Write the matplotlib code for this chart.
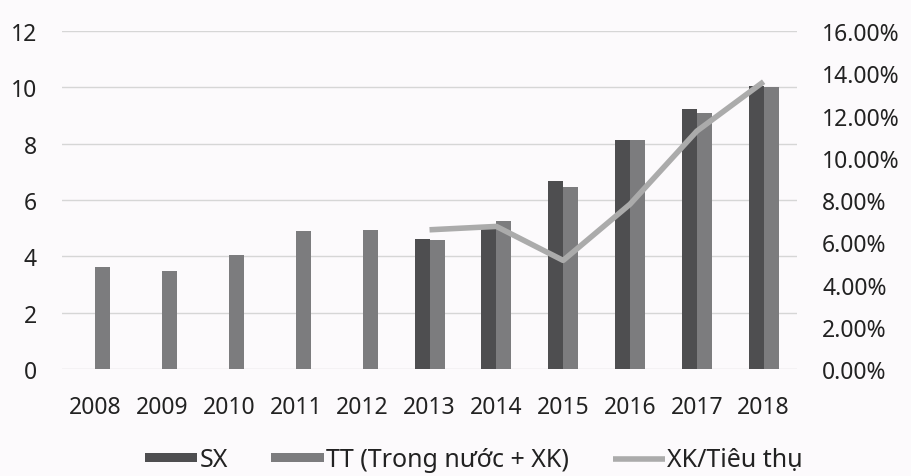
import numpy as np
import matplotlib
matplotlib.use("Agg")
import matplotlib.pyplot as plt
from matplotlib.ticker import FuncFormatter, MultipleLocator

plt.rcParams['font.family'] = ['Noto Sans', 'DejaVu Sans']

years = ["2008", "2009", "2010", "2011", "2012", "2013", "2014", "2015", "2016", "2017", "2018"]
sx = [np.nan, np.nan, np.nan, np.nan, np.nan, 4.62, 5.12, 6.68, 8.12, 9.22, 10.06]
tt = [3.61, 3.49, 4.06, 4.9, 4.95, 4.57, 5.24, 6.47, 8.12, 9.1, 10.0]
xk_ratio = [np.nan, np.nan, np.nan, np.nan, np.nan, 6.59, 6.75, 5.14, 7.8, 11.26, 13.6]  # percent

labels = ["SX", "TT (Trong nước + XK)", "XK/Tiêu thụ"]

bg = "#fcfafc"
c_sx = "#4e4e50"
c_tt = "#7c7c7e"
c_line = "#ababab"
grid_c = "#d6d6d6"
txt_c = "#222222"

fig = plt.figure(figsize=(9.11, 4.77), dpi=100, facecolor=bg)
ax = fig.add_axes([0.0681, 0.2243, 0.8068, 0.7086])
ax.set_facecolor(bg)

x = np.arange(len(years))
w = 0.225
b1 = ax.bar(x - w / 2, sx, width=w, color=c_sx, label=labels[0], zorder=3)
b2 = ax.bar(x + w / 2, tt, width=w, color=c_tt, label=labels[1], zorder=3)

ax.set_xlim(-0.5, len(years) - 0.5)
ax.set_ylim(0, 12)
ax.yaxis.set_major_locator(MultipleLocator(2))
ax.set_xticks(x)
ax.set_xticklabels(years)
ax.grid(axis='y', color=grid_c, linewidth=1.0, zorder=0)
ax.set_axisbelow(True)
for s in ax.spines.values():
    s.set_visible(False)
ax.tick_params(axis='both', length=0, labelsize=16.5, colors=txt_c)
ax.tick_params(axis='y', pad=18)
ax.tick_params(axis='x', pad=19)

ax2 = ax.twinx()
ax2.set_ylim(0, 16)
ax2.yaxis.set_major_locator(MultipleLocator(2))
ax2.yaxis.set_major_formatter(FuncFormatter(lambda v, p: f"{v:.2f}%"))
for s in ax2.spines.values():
    s.set_visible(False)
ax2.tick_params(axis='y', length=0, labelsize=16.5, colors=txt_c, pad=18)
ln, = ax2.plot(x, xk_ratio, color=c_line, linewidth=4.0, label=labels[2], zorder=4,
               solid_capstyle='butt')

leg = fig.legend(handles=[b1, b2, ln], labels=labels, loc='center',
                 bbox_to_anchor=(0.52, 0.034), ncol=3, frameon=False,
                 fontsize=18, handlelength=2.1, handleheight=0.2,
                 handletextpad=0.08, columnspacing=1.75, labelcolor=txt_c)

fig.savefig("out.png", dpi=100, facecolor=bg)
